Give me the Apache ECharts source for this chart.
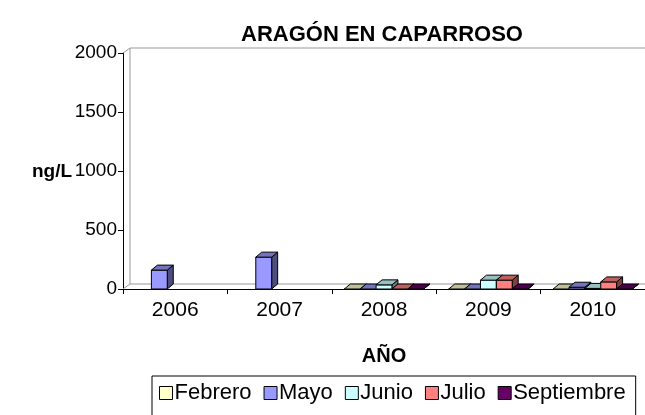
<!DOCTYPE html>
<html>
<head>
<meta charset="utf-8">
<script src="https://cdn.jsdelivr.net/npm/echarts@6/dist/echarts.min.js"></script>
<style>html,body{margin:0;padding:0;background:#fff}#c{width:645px;height:415px}</style>
</head>
<body>
<div id="c"></div>
<script>
const categories = ['2006', '2007', '2008', '2009', '2010'];
const seriesNames = ['Febrero', 'Mayo', 'Junio', 'Julio', 'Septiembre'];
const febrero = [null, null, 0, 0, 0];
const mayo = [160, 270, 0, 0, 15];
const junio = [null, null, 35, 75, 5];
const julio = [null, null, 0, 75, 60];
const septiembre = [null, null, 0, 0, 0];
const yTicks = [0, 500, 1000, 1500, 2000];

const seriesValues = [febrero, mayo, junio, julio, septiembre];
const colors = ['#FFFFCC', '#9999FF', '#CCFFFF', '#FF8080', '#660066'];
const FONT = '"Liberation Sans", Arial, sans-serif';
const DX = 6, DY = 5;

function shade(hex, f) {
  const n = parseInt(hex.slice(1), 16);
  const r = Math.round(((n >> 16) & 255) * f), g = Math.round(((n >> 8) & 255) * f), b = Math.round((n & 255) * f);
  return 'rgb(' + r + ',' + g + ',' + b + ')';
}

function makeBarSeries(s) {
  const data = [];
  seriesValues[s].forEach((v, i) => { if (v !== null) data.push([i, v]); });
  const c = colors[s];
  return {
    name: seriesNames[s],
    type: 'custom',
    z: 3,
    itemStyle: { color: c, borderColor: '#000', borderWidth: 1 },
    data: data,
    renderItem: function (params, api) {
      const cat = api.value(0), val = api.value(1);
      const base = api.coord([cat, 0]);
      const top = api.coord([cat, val]);
      const band = api.size([1, 0])[0];
      const bw = band * 0.152;
      const x0 = base[0] - 2.5 * bw + s * bw;
      const yb = base[1], yt = top[1];
      const st = { stroke: '#000', lineWidth: 1 };
      return {
        type: 'group',
        children: [
          { type: 'polygon', shape: { points: [[x0 + bw, yt], [x0 + bw + DX, yt - DY], [x0 + bw + DX, yb - DY], [x0 + bw, yb]] },
            style: Object.assign({ fill: shade(c, 0.5) }, st) },
          { type: 'rect', shape: { x: x0, y: yt, width: bw, height: yb - yt },
            style: Object.assign({ fill: c }, st) },
          { type: 'polygon', shape: { points: [[x0, yt], [x0 + DX, yt - DY], [x0 + bw + DX, yt - DY], [x0 + bw, yt]] },
            style: Object.assign({ fill: shade(c, 0.75) }, st) }
        ]
      };
    }
  };
}

const wallSeries = {
  type: 'custom',
  name: 'wall',
  z: 1,
  silent: true,
  data: [[0, 0]],
  renderItem: function (params, api) {
    const cs = params.coordSys;
    const x = cs.x, y = cs.y, w = cs.width, h = cs.height;
    const wd = 7, hd = 5;
    const st = { stroke: '#999', lineWidth: 1, fill: null };
    return {
      type: 'group',
      children: [
        { type: 'line', shape: { x1: x + wd, y1: y - hd, x2: x + w + wd, y2: y - hd }, style: st },
        { type: 'line', shape: { x1: x + wd, y1: y - hd, x2: x + wd, y2: y + h - hd }, style: st },
        { type: 'line', shape: { x1: x + wd, y1: y + h - hd, x2: x + w + wd, y2: y + h - hd }, style: st },
        { type: 'line', shape: { x1: x, y1: y, x2: x + wd, y2: y - hd }, style: st },
        { type: 'line', shape: { x1: x, y1: y + h, x2: x + wd, y2: y + h - hd }, style: st },
        { type: 'line', shape: { x1: x + w, y1: y + h, x2: x + w + wd, y2: y + h - hd }, style: st }
      ]
    };
  }
};

const chart = echarts.init(document.getElementById('c'));
chart.setOption({
  animation: false,
  backgroundColor: '#fff',
  title: {
    text: 'ARAGÓN EN CAPARROSO',
    left: 377, top: 19, textAlign: 'center',
    textStyle: { fontFamily: FONT, fontSize: 22, fontWeight: 'bold', color: '#000' }
  },
  graphic: [{
    type: 'text', left: 32, top: 162,
    style: { text: 'ng/L', font: 'bold 19px ' + FONT, fill: '#000' }
  }],
  legend: {
    data: seriesNames,
    left: 152, top: 376,
    orient: 'horizontal',
    icon: 'rect',
    itemWidth: 13, itemHeight: 13, itemGap: 12,
    padding: [6, 10, 20, 7],
    borderColor: '#000', borderWidth: 1,
    itemStyle: { borderColor: '#000', borderWidth: 1 },
    textStyle: { fontFamily: FONT, fontSize: 22, color: '#000', padding: [0, 0, 0, -3] }
  },
  grid: { left: 123, right: -7, top: 53, bottom: 126, containLabel: false },
  xAxis: {
    type: 'category',
    data: categories,
    name: 'AÑO',
    nameLocation: 'middle',
    nameGap: 57,
    nameTextStyle: { fontFamily: FONT, fontSize: 20, fontWeight: 'bold', color: '#000' },
    axisLine: { lineStyle: { color: '#000', width: 1 } },
    axisTick: { show: true, length: 5, lineStyle: { color: '#000' } },
    axisLabel: { fontFamily: FONT, fontSize: 21, color: '#000', margin: 11 }
  },
  yAxis: {
    type: 'value',
    min: yTicks[0], max: yTicks[yTicks.length - 1], interval: 500,
    axisLine: { show: true, lineStyle: { color: '#000', width: 1 } },
    axisTick: { show: true, length: 5, lineStyle: { color: '#000' } },
    splitLine: { show: false },
    axisLabel: { fontFamily: FONT, fontSize: 19, color: '#000', margin: 6, formatter: function (v) { return String(v); } }
  },
  series: [wallSeries].concat(seriesNames.map((n, i) => makeBarSeries(i)))
});
</script>
</body>
</html>
